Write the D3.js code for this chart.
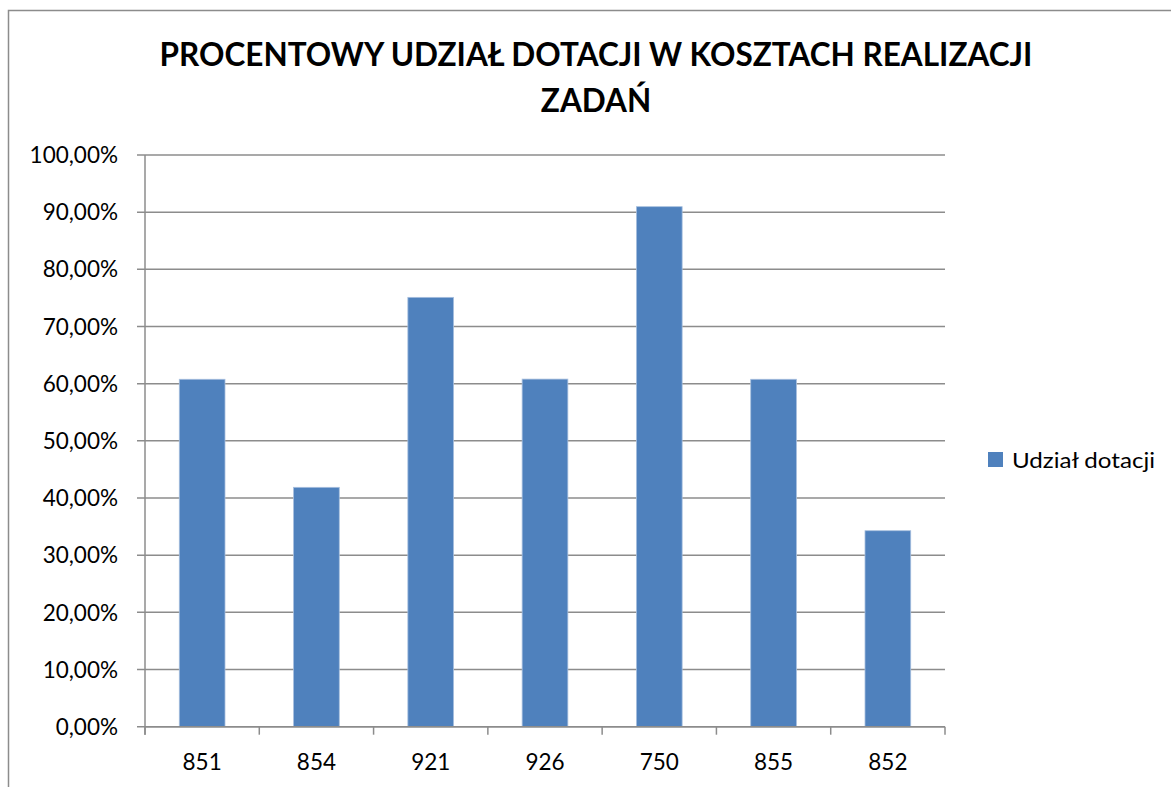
<!DOCTYPE html>
<html><head><meta charset="utf-8">
<script src="https://cdn.jsdelivr.net/npm/d3@7"></script>
<style>html,body{margin:0;padding:0;background:#fff;}svg{display:block;}</style>
</head><body>
<script>
const categories = ["851","854","921","926","750","855","852"];
const values = [0.6077, 0.4187, 0.7510, 0.6080, 0.9096, 0.6077, 0.3428];
const yTicks = [0,0.1,0.2,0.3,0.4,0.5,0.6,0.7,0.8,0.9,1.0];
const seriesName = "Udział dotacji";
const titleLines = ["PROCENTOWY UDZIAŁ DOTACJI W KOSZTACH REALIZACJI","ZADAŃ"];

(function(){
const W = 1171, H = 787;
const font = "Lato, 'Open Sans', sans-serif";
const svg = d3.select("body").append("svg").attr("width", W).attr("height", H);

svg.append("path").attr("d", `M8.5,${H} V10.5 H${W}`).attr("fill","none").attr("stroke","#8c8c8c").attr("stroke-width",1.5);

const pLeft = 145, pRight = 945, pTop = 155, pBottom = 726.7;
const x = d3.scaleBand().domain(categories).range([pLeft, pRight]).paddingInner(0.6).paddingOuter(0.3);
const xb = d3.scaleBand().domain(categories).range([pLeft, pRight]);
const y = d3.scaleLinear().domain([0,1]).range([pBottom, pTop]);

const yAxis = d3.axisLeft(y).tickValues(yTicks).tickSize(0).tickPadding(27)
  .tickFormat(d => d3.format(".2f")(d*100).replace(".",",") + "%");
const gy = svg.append("g").attr("transform",`translate(${pLeft},0)`).call(yAxis);
gy.select(".domain").remove();
gy.selectAll("text").attr("font-family",font).attr("font-size",22.5).attr("fill","#000").attr("dy","0.34em");
svg.append("g").selectAll("line").data(yTicks).join("line")
  .attr("x1", pLeft-8).attr("x2", pRight).attr("y1", d=>y(d)).attr("y2", d=>y(d))
  .attr("stroke","#8c8c8c").attr("stroke-width",1.5);
svg.append("line").attr("x1",pLeft).attr("x2",pLeft).attr("y1",pTop).attr("y2",pBottom+8)
  .attr("stroke","#8c8c8c").attr("stroke-width",1.5);

svg.append("g").selectAll("rect").data(values).join("rect")
  .attr("x",(d,i)=>x(categories[i])).attr("width",x.bandwidth())
  .attr("y",d=>y(d)).attr("height",d=>pBottom-y(d))
  .attr("fill","#4f81bd").attr("stroke","#a7bfde").attr("stroke-width",0.8);

svg.append("line").attr("x1",pLeft).attr("x2",pRight).attr("y1",pBottom).attr("y2",pBottom)
  .attr("stroke","#8c8c8c").attr("stroke-width",1.5);
const boundaries = categories.map(c=>xb(c)).concat([pRight]);
svg.append("g").selectAll("line").data(boundaries).join("line")
  .attr("x1",d=>d).attr("x2",d=>d).attr("y1",pBottom).attr("y2",pBottom+8)
  .attr("stroke","#8c8c8c").attr("stroke-width",1.5);
const xAxis = d3.axisBottom(xb).tickSize(0).tickPadding(0);
const gx = svg.append("g").attr("transform",`translate(0,${pBottom})`).call(xAxis);
gx.select(".domain").remove();
gx.selectAll("text").attr("font-family",font).attr("font-size",22.5).attr("fill","#000")
  .attr("dy",null).attr("y",43);

svg.append("g").selectAll("text").data(titleLines).join("text")
  .attr("x",596).attr("y",(d,i)=>66+i*46).attr("text-anchor","middle")
  .attr("font-family",font).attr("font-weight","bold").attr("font-size",31.5).attr("fill","#000")
  .text(d=>d);

svg.append("rect").attr("x",988).attr("y",452).attr("width",15).attr("height",15).attr("fill","#4f81bd");
svg.append("text").attr("x",1012).attr("y",467.5).attr("font-family",font).attr("font-size",21.5)
  .attr("textLength",143).attr("lengthAdjust","spacingAndGlyphs").attr("fill","#000").text(seriesName);
})();
</script>
</body></html>
